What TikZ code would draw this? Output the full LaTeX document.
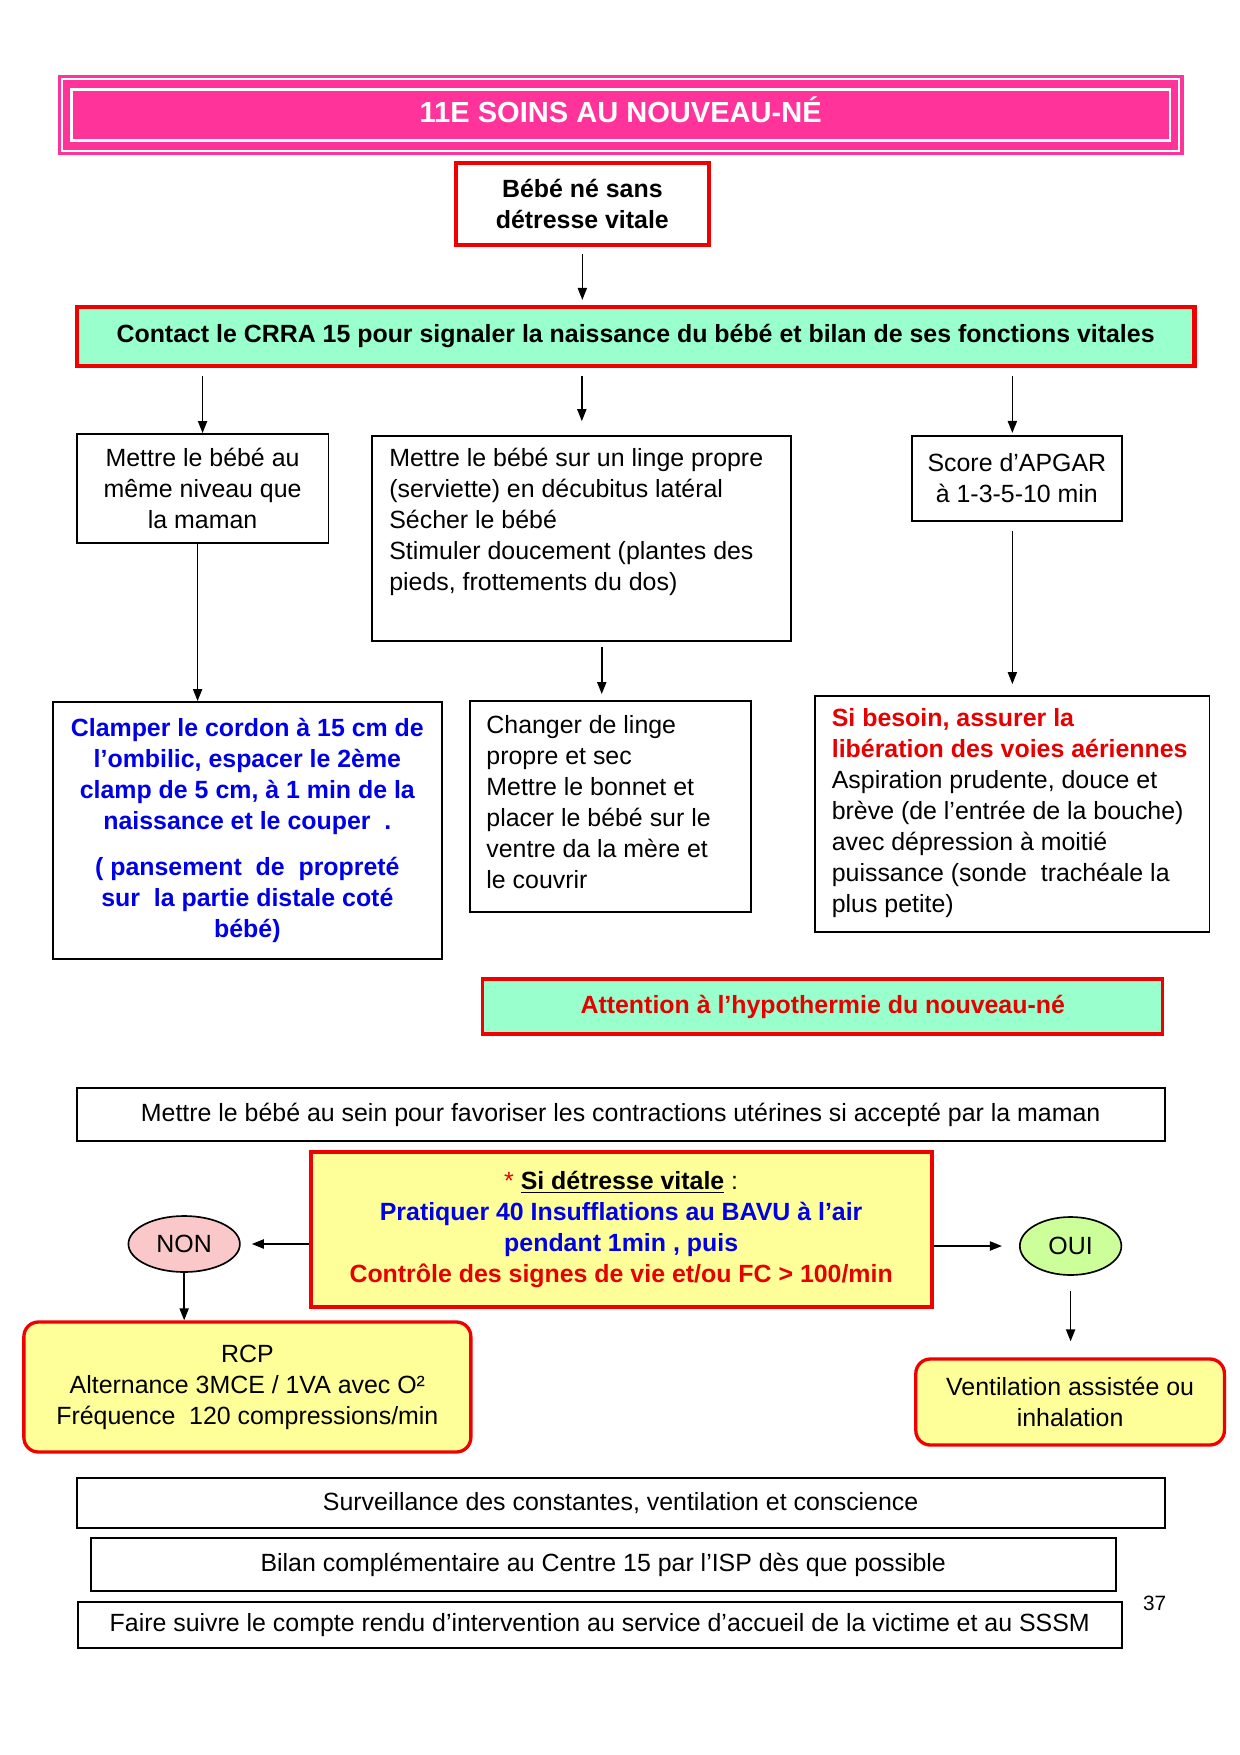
\documentclass[tikz,border=0pt]{standalone}
\usepackage{fontspec}
\setmainfont{Liberation Sans}
\usetikzlibrary{arrows.meta,calc,shapes.geometric}
\definecolor{pinkT}{RGB}{255,51,153}
\definecolor{mint}{RGB}{153,255,204}
\definecolor{yel}{RGB}{255,255,153}
\definecolor{redB}{RGB}{240,0,0}
\definecolor{blueT}{RGB}{0,0,230}
\definecolor{redT}{RGB}{230,0,0}
\definecolor{nonF}{RGB}{250,200,200}
\definecolor{ouiF}{RGB}{204,255,153}
\def\pxu{0.4818pt}
\def\pxx{0.4796pt}
\newcommand\mkbox[7]{\node[#2, minimum width={(#5-#3)*\pxx}, minimum height={(#6-#4)*\pxu}] (#1) at ({(#3+#5)/2},{(#4+#6)/2}) {#7};}
\begin{document}
\begin{tikzpicture}[x=0.4796pt, y=-0.4818pt,
  base/.style={font=\fontsize{12}{14.9}\selectfont, inner sep=2pt},
  bold/.style={font=\fontsize{12}{14.9}\selectfont\bfseries},
  bbox/.style={base, draw=black, line width=0.9pt, align=center},
  rbox/.style={base, draw=redB, line width=2pt, align=center},
  rrbox/.style={rbox, fill=yel, rounded corners=7pt, line width=1.6pt},
  ell/.style={base, ellipse, draw=black, line width=0.8pt, inner sep=0pt},
  txt/.style={base, anchor=west, align=left},
  arr/.style={-{Triangle[length=5.8pt,width=4.4pt]}, line width=0.8pt},
  titlebox/.style={fill=pinkT, inner sep=0pt},
  titletext/.style={text=white, inner sep=0pt, font=\fontsize{14}{17}\selectfont\bfseries}]
\useasboundingbox (0,0) rectangle (1245.6,1755);

% title
\mkbox{title}{titlebox}{58}{75}{1189}{155}{}
\draw[white, line width=1.1pt] ([shift={(5,4.5)}]title.north west) rectangle ([shift={(-5,-4.5)}]title.south east);
\draw[white, line width=1.2pt] ([shift={(14,15)}]title.north west) rectangle ([shift={(-14,-15)}]title.south east);
\node[titletext] (titletxt) at ($(title.center)+(0,-5)$) {11E SOINS AU NOUVEAU-NÉ};

% boxes
\mkbox{bebe}{rbox, bold}{458}{163}{712}{245}{Bébé né sans\\détresse vitale}
\mkbox{contact}{rbox, bold, fill=mint}{77}{307}{1200}{366}{Contact le CRRA 15 pour signaler la naissance du bébé et bilan de ses fonctions vitales}
\mkbox{meme}{bbox}{77}{434}{330}{543}{Mettre le bébé au\\même niveau que\\la maman}
\mkbox{linge}{bbox}{374}{436}{795}{641}{}
\node[txt] (lingetxt) at ([shift={(13.5,-16.5)}]linge.west) {Mettre le bébé sur un linge propre\\(serviette) en décubitus latéral\\Sécher le bébé\\Stimuler doucement (plantes des\\pieds, frottements du dos)};
\mkbox{apgar}{bbox}{916}{436}{1127}{521}{Score d’APGAR\\à 1-3-5-10 min}
\mkbox{clamp}{bbox, bold, text=blueT}{53}{702}{444}{959}{Clamper le cordon à 15 cm de\\l’ombilic, espacer le 2ème\\clamp de 5 cm, à 1 min de la\\naissance et le couper~~.\\[7.5pt]( pansement~ de~ propreté\\sur~ la partie distale coté\\bébé)}
\mkbox{changer}{bbox}{472}{701}{754}{912}{}
\node[txt] (changertxt) at ([shift={(13,-4.5)}]changer.west) {Changer de linge\\propre et sec\\Mettre le bonnet et\\placer le bébé sur le\\ventre da la mère et\\le couvrir};
\mkbox{besoin}{bbox}{819}{696}{1215}{932}{}
\node[txt] (besointxt) at ([shift={(13,-1)}]besoin.west) {\textcolor{redT}{\textbf{Si besoin, assurer la}}\\\textcolor{redT}{\textbf{libération des voies aériennes}}\\Aspiration prudente, douce et\\brève (de l’entrée de la bouche)\\avec dépression à moitié\\puissance (sonde~ trachéale la\\plus petite)};
\mkbox{attn}{rbox, bold, fill=mint, text=redT, line width=1.6pt}{485}{979}{1168}{1034}{Attention à l’hypothermie du nouveau-né}
\mkbox{sein}{bbox}{77}{1088}{1170}{1141}{Mettre le bébé au sein pour favoriser les contractions utérines si accepté par la maman}
\mkbox{detr}{rbox, fill=yel}{312}{1152}{936}{1307}{\textcolor{redT}{*} \textbf{\underline{Si détresse vitale}} :\\\textcolor{blueT}{\textbf{Pratiquer 40 Insufflations au BAVU à l’air}}\\\textcolor{blueT}{\textbf{pendant 1min , puis}}\\\textcolor{redT}{\textbf{Contrôle des signes de vie et/ou FC > 100/min}}}
\node[ell, fill=nonF, minimum width={112*\pxx}, minimum height={56*\pxu}] (non) at (185,1244) {NON};
\node[ell, fill=ouiF, minimum width={102*\pxx}, minimum height={58*\pxu}] (oui) at (1075.5,1246) {OUI};
\mkbox{rcp}{rrbox}{24}{1322}{473}{1452}{RCP\\Alternance 3MCE / 1VA avec O²\\Fréquence~ 120 compressions/min}
\mkbox{vent}{rrbox}{920}{1359}{1230}{1445}{Ventilation assistée ou\\inhalation}
\mkbox{surv}{bbox}{77}{1478}{1170}{1528}{Surveillance des constantes, ventilation et conscience}
\mkbox{bilan}{bbox}{91}{1538}{1121}{1591}{Bilan complémentaire au Centre 15 par l’ISP dès que possible}
\mkbox{faire}{bbox}{78}{1602}{1127}{1648}{Faire suivre le compte rendu d’intervention au service d’accueil de la victime et au SSSM}
\node[font=\fontsize{10}{12}\selectfont] (page) at (1160,1603) {37};

% connectors
\draw[arr, shorten <=3.4pt, shorten >=2.4pt] (bebe.south) -- (bebe.south |- contact.north);
\draw[arr, shorten <=3.9pt] (meme.north |- contact.south) -- (meme.north);
\draw[arr, shorten <=3.9pt, shorten >=6.7pt] (linge.north |- contact.south) -- (linge.north);
\draw[arr, shorten <=3.9pt, shorten >=1pt] (besoin.north |- contact.south) -- (besoin.north |- apgar.north);
\draw[arr] ($(meme.south)+(-5,0)$) -- ($(meme.south |- clamp.north)+(-5,0)$);
\draw[arr, shorten <=2.4pt, shorten >=2.9pt] ($(linge.south)+(20,0)$) -- ($(linge.south |- changer.north)+(20,0)$);
\draw[arr, shorten <=4.3pt, shorten >=5.3pt] (besoin.north |- apgar.south) -- (besoin.north);
\draw[arr, shorten >=5.3pt] (non.east -| detr.west) -- (non.east);
\draw[arr, shorten >=8.2pt] (oui.west -| detr.east) -- (oui.west);
\draw[arr] (non.south) -- (non.south |- rcp.north);
\draw[arr, shorten <=7.2pt, shorten >=7.7pt] (oui.south) -- (oui.south |- vent.north);
\end{tikzpicture}
\end{document}
